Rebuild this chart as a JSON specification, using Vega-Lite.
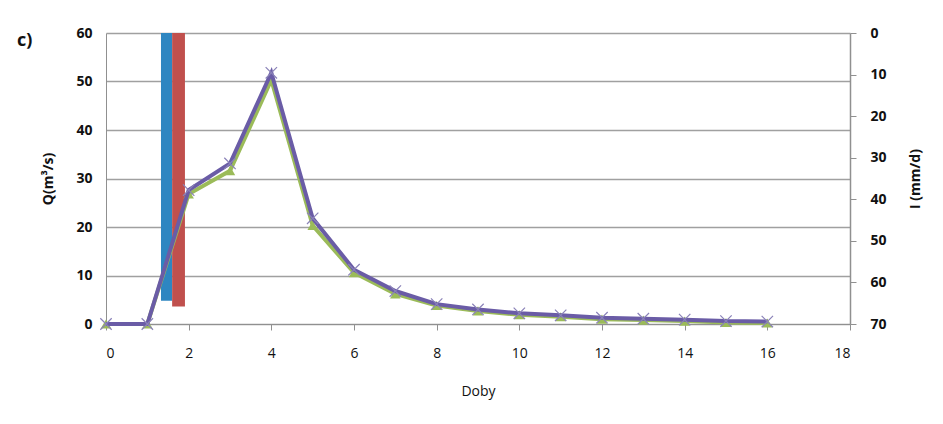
{
  "$schema": "https://vega.github.io/schema/vega-lite/v6.json",
  "width": 744,
  "height": 291,
  "autosize": "none",
  "padding": {"left": 106, "top": 33, "right": 93, "bottom": 100},
  "background": "white",
  "config": {
    "font": "Open Sans",
    "view": {"stroke": null},
    "axis": {"labelFont": "Open Sans", "titleFont": "Open Sans", "labelColor": "#111", "titleColor": "#111", "domainColor": "#909090", "tickColor": "#909090", "gridColor": "#a0a0a0"}
  },
  "title": {"text": "c)", "anchor": "start", "frame": "group", "orient": "top", "dx": -89, "dy": 28, "fontSize": 18, "fontWeight": "bold", "font": "Open Sans", "color": "#111"},
  "datasets": {
    "flow": [
      {"day": 0, "series": "sim", "Q": 0},
      {"day": 1, "series": "sim", "Q": 0},
      {"day": 2, "series": "sim", "Q": 26.8},
      {"day": 3, "series": "sim", "Q": 31.6},
      {"day": 4, "series": "sim", "Q": 50.3},
      {"day": 5, "series": "sim", "Q": 20.3},
      {"day": 6, "series": "sim", "Q": 10.6},
      {"day": 7, "series": "sim", "Q": 6.2},
      {"day": 8, "series": "sim", "Q": 3.8},
      {"day": 9, "series": "sim", "Q": 2.7},
      {"day": 10, "series": "sim", "Q": 1.9},
      {"day": 11, "series": "sim", "Q": 1.5},
      {"day": 12, "series": "sim", "Q": 1.0},
      {"day": 13, "series": "sim", "Q": 0.8},
      {"day": 14, "series": "sim", "Q": 0.6},
      {"day": 15, "series": "sim", "Q": 0.3},
      {"day": 16, "series": "sim", "Q": 0.2},
      {"day": 0, "series": "obs", "Q": 0},
      {"day": 1, "series": "obs", "Q": 0},
      {"day": 2, "series": "obs", "Q": 27.6},
      {"day": 3, "series": "obs", "Q": 33.1},
      {"day": 4, "series": "obs", "Q": 51.8},
      {"day": 5, "series": "obs", "Q": 21.8},
      {"day": 6, "series": "obs", "Q": 11.2},
      {"day": 7, "series": "obs", "Q": 6.8},
      {"day": 8, "series": "obs", "Q": 4.1},
      {"day": 9, "series": "obs", "Q": 3.0},
      {"day": 10, "series": "obs", "Q": 2.2},
      {"day": 11, "series": "obs", "Q": 1.8},
      {"day": 12, "series": "obs", "Q": 1.3},
      {"day": 13, "series": "obs", "Q": 1.1},
      {"day": 14, "series": "obs", "Q": 0.9},
      {"day": 15, "series": "obs", "Q": 0.6},
      {"day": 16, "series": "obs", "Q": 0.5}
    ],
    "rain": [
      {"x1": 1.33, "x2": 1.6, "I": 64.4, "series": "I1"},
      {"x1": 1.6, "x2": 1.91, "I": 65.8, "series": "I2"}
    ]
  },
  "layer": [
    {
      "data": {"name": "rain"},
      "mark": {"type": "rect"},
      "encoding": {
        "x": {"field": "x1", "type": "quantitative", "scale": {"domain": [0, 18], "nice": false}, "axis": {"values": [0, 2, 4, 6, 8, 10, 12, 14, 16, 18], "grid": false, "title": "Doby", "titleFontWeight": "normal", "titleFontSize": 14, "titlePadding": 24, "labelFontSize": 14, "labelPadding": 16, "tickSize": 6, "domain": true}},
        "x2": {"field": "x2"},
        "y": {"field": "I", "type": "quantitative", "scale": {"domain": [0, 70], "reverse": true, "nice": false}, "axis": {"orient": "right", "values": [0, 10, 20, 30, 40, 50, 60, 70], "title": "I (mm/d)", "titleAngle": 270, "titleFontWeight": "bold", "titleFontSize": 14, "titlePadding": 36, "labelFontSize": 14, "labelFontWeight": "bold", "labelPadding": 14, "tickSize": 6, "grid": false, "domainWidth": 1.5}},
        "y2": {"datum": 0},
        "color": {"field": "series", "type": "nominal", "scale": {"domain": ["I1", "I2"], "range": ["#2e86c1", "#c0504d"]}, "legend": null}
      }
    },
    {
      "data": {"name": "flow"},
      "layer": [
        {
          "transform": [{"filter": "datum.series == 'sim'"}],
          "mark": {"type": "line", "color": "#9bbb59", "strokeWidth": 4},
          "encoding": {
            "x": {"field": "day", "type": "quantitative"},
            "y": {"field": "Q", "type": "quantitative", "scale": {"domain": [0, 60], "nice": false}, "axis": {"orient": "left", "values": [0, 10, 20, 30, 40, 50, 60], "title": "Q(m³/s)", "titleFontWeight": "bold", "titleFontSize": 14, "titlePadding": 20, "labelFontSize": 14, "labelFontWeight": "bold", "labelPadding": 14, "ticks": false, "grid": true, "gridWidth": 1.5}}
          }
        },
        {
          "transform": [{"filter": "datum.series == 'sim'"}],
          "mark": {"type": "point", "shape": "triangle-up", "filled": true, "color": "#9bbb59", "size": 110, "opacity": 1},
          "encoding": {
            "x": {"field": "day", "type": "quantitative"},
            "y": {"field": "Q", "type": "quantitative"}
          }
        },
        {
          "transform": [{"filter": "datum.series == 'obs'"}],
          "mark": {"type": "line", "color": "#6a5ca6", "strokeWidth": 4},
          "encoding": {
            "x": {"field": "day", "type": "quantitative"},
            "y": {"field": "Q", "type": "quantitative"}
          }
        },
        {
          "transform": [{"filter": "datum.series == 'obs'"}],
          "mark": {"type": "point", "shape": "M-1,-1L1,1M-1,1L1,-1", "filled": false, "color": "#8a82b8", "strokeWidth": 1.2, "size": 130, "opacity": 1},
          "encoding": {
            "x": {"field": "day", "type": "quantitative"},
            "y": {"field": "Q", "type": "quantitative"}
          }
        }
      ]
    }
  ],
  "resolve": {"scale": {"y": "independent"}}
}
